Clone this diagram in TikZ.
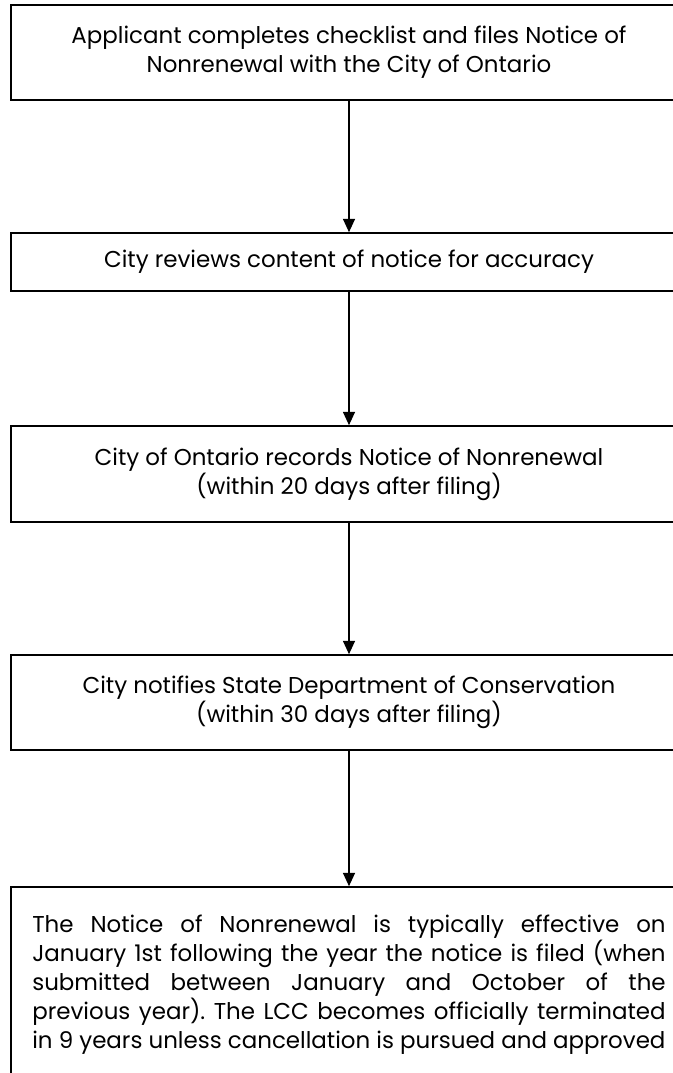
\documentclass[tikz,border=0pt]{standalone}
\usepackage{fontspec}
\setmainfont{Poppins}
\usetikzlibrary{arrows.meta}
\frenchspacing
\begin{document}
\begin{tikzpicture}[x=0.75pt,y=-0.75pt]
		\useasboundingbox (0,0) rectangle (673,1073);
		\begin{scope}[every node/.style={draw=black, line width=1.2pt, minimum width=507pt, inner sep=0pt, align=center, font=\fontsize{17.2}{21.75}\selectfont}]
			\node (N1)[minimum height=71.25pt] at (349,52.5) {Applicant completes checklist and files Notice of\\Nonrenewal with the City of Ontario};
			\node (N2)[minimum height=43.5pt] at (349,262) {City reviews content of notice for accuracy};
			\node (N3)[minimum height=72pt] at (349,474) {City of Ontario records Notice of Nonrenewal\\(within 20 days after filing)};
			\node (N4)[minimum height=71.25pt] at (349,702.5) {City notifies State Department of Conservation\\(within 30 days after filing)};
			\node (N5)[minimum height=146.25pt, text width=475pt, align=justify] at (349,984.5) {The Notice of Nonrenewal is typically effective on\linebreak January 1st following the year the notice is filed (when\linebreak submitted between January and October of the\linebreak previous year). The LCC becomes officially terminated\linebreak in 9 years unless cancellation is pursued and approved\parfillskip=0pt};
		\end{scope}
		\begin{scope}[every edge/.style={draw, line width=1pt}]
			\path [-{Triangle[length=10pt,width=9pt]}] (N1.south) edge (N2.north);
			\path [-{Triangle[length=10pt,width=9pt]}] (N2.south) edge (N3.north);
			\path [-{Triangle[length=10pt,width=9pt]}] (N3.south) edge (N4.north);
			\path [-{Triangle[length=10pt,width=9pt]}] (N4.south) edge (N5.north);
		\end{scope}
	\end{tikzpicture}
\end{document}
